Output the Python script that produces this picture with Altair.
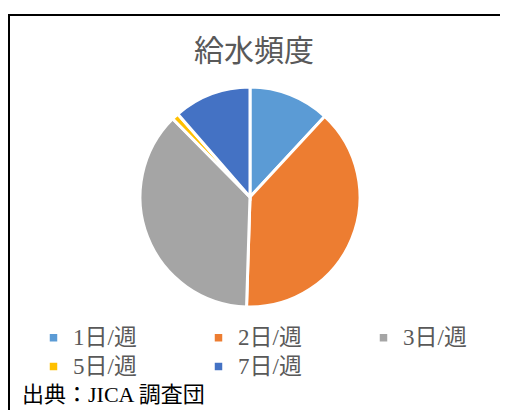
import altair as alt
import pandas as pd

categories = ["1日/週", "2日/週", "3日/週", "5日/週", "7日/週"]
shares = [11.9, 38.6, 37.1, 1.0, 11.4]
colors = ["#5B9BD5", "#ED7D31", "#A5A5A5", "#FFC000", "#4472C4"]
title_text = "給水頻度"
source_text = "出典：JICA 調査団"

df = pd.DataFrame({"cat": categories, "val": shares, "ord": list(range(len(categories)))})

SERIF = "Liberation Serif, Noto Sans CJK JP, serif"

pie = alt.Chart(df).mark_arc(outerRadius=110, stroke="white", strokeWidth=3).encode(
    theta=alt.Theta("val:Q", stack=True),
    order=alt.Order("ord:Q"),
    color=alt.Color(
        "cat:N",
        scale=alt.Scale(domain=categories, range=colors),
        sort=categories,
        legend=alt.Legend(
            title=None,
            orient="none",
            direction="horizontal",
            legendX=34,
            legendY=318,
            columns=3,
            columnPadding=70,
            rowPadding=5,
            symbolType="square",
            symbolSize=56,
            symbolStrokeWidth=0,
            labelFont=SERIF,
            labelFontSize=23,
            labelColor="#595959",
            labelOffset=8,
        ),
    ),
    x=alt.value(242),
    y=alt.value(189),
)

title = alt.Chart(pd.DataFrame({"t": [title_text]})).mark_text(
    font=SERIF, fontSize=30, color="#595959", align="center", baseline="middle"
).encode(text="t:N", x=alt.value(246), y=alt.value(44))

source = alt.Chart(pd.DataFrame({"t": [source_text]})).mark_text(
    font=SERIF, fontSize=22, color="#000000", align="left", baseline="alphabetic"
).encode(text="t:N", x=alt.value(14), y=alt.value(394))

top_line = alt.Chart(pd.DataFrame({"a": [0]})).mark_rule(color="black", strokeWidth=2).encode(
    x=alt.value(1), x2=alt.value(492), y=alt.value(7)
)
left_line = alt.Chart(pd.DataFrame({"a": [0]})).mark_rule(color="black", strokeWidth=2).encode(
    x=alt.value(1), y=alt.value(6), y2=alt.value(402)
)

chart = alt.layer(top_line, left_line, pie, title, source).properties(
    width=492, height=402, padding=0, autosize=alt.AutoSizeParams(type="none")
).configure_view(stroke=None)

chart.save("out.html", embed_options={"renderer": "svg", "actions": False})
